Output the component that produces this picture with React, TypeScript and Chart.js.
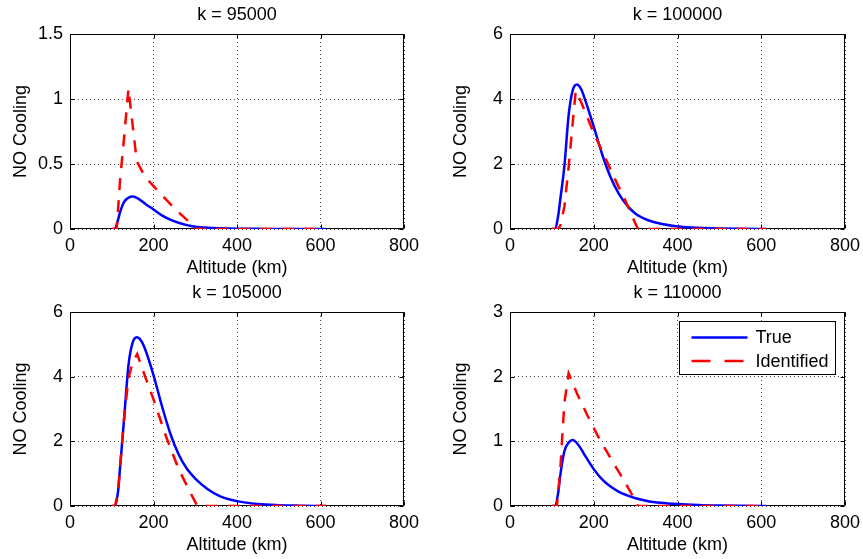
import React, { useEffect, useRef } from "react";
import { Chart, registerables } from "chart.js";

Chart.register(...registerables);

// ---------------- data ----------------
const panelTitles = ["k = 95000", "k = 100000", "k = 105000", "k = 110000"];
const seriesLabels = ["True", "Identified"];
const xAxisTitle = "Altitude (km)";
const yAxisTitle = "NO Cooling";

const altitudeTicks = [0, 200, 400, 600, 800];
const yTicks95000 = [0, 0.5, 1, 1.5];
const yTicks100000 = [0, 2, 4, 6];
const yTicks105000 = [0, 2, 4, 6];
const yTicks110000 = [0, 1, 2, 3];

// "True" profiles (solid blue)
const altitudeTrue = [100, 107, 115, 120, 130, 140, 150, 160, 170, 180, 200, 220, 240, 260, 280, 300, 330, 360, 400, 450, 500, 550, 612];
const true95000 = [0, 0, 0.07, 0.13, 0.21, 0.24, 0.25, 0.24, 0.22, 0.195, 0.15, 0.105, 0.072, 0.048, 0.03, 0.018, 0.009, 0.005, 0.002, 0.001, 0, 0, 0];
const true100000 = [0, 0, 0.4, 0.9, 1.95, 3.5, 4.28, 4.45, 4.3, 3.95, 3.15, 2.3, 1.6, 1.08, 0.72, 0.47, 0.27, 0.16, 0.08, 0.035, 0.015, 0.006, 0];
const true105000 = [0, 0, 0.44, 1.2, 2.77, 4.35, 5.05, 5.22, 5.12, 4.85, 4.05, 3.1, 2.25, 1.6, 1.15, 0.85, 0.52, 0.3, 0.15, 0.06, 0.025, 0.01, 0];
const true110000 = [0, 0, 0.2, 0.47, 0.85, 0.98, 1.02, 0.97, 0.88, 0.77, 0.57, 0.41, 0.3, 0.22, 0.165, 0.12, 0.075, 0.05, 0.03, 0.015, 0.007, 0.003, 0];

// "Identified" profiles (dashed red)
const altIdent95000 = [100, 112, 120, 130, 140, 150, 160, 180, 200, 220, 250, 280, 300, 612];
const ident95000 = [0, 0, 0.38, 0.72, 1.08, 0.8, 0.52, 0.4, 0.33, 0.26, 0.16, 0.07, 0, 0];
const altIdent100000 = [100, 115, 120, 130, 140, 150, 157, 170, 200, 230, 250, 275, 300, 306, 612];
const ident100000 = [0, 0, 0.1, 0.7, 1.9, 3.3, 4.25, 3.9, 2.95, 2.12, 1.55, 0.89, 0.15, 0, 0];
const altIdent105000 = [100, 108, 115, 120, 130, 140, 150, 161, 180, 200, 230, 260, 290, 305, 612];
const ident105000 = [0, 0, 0.44, 1.2, 2.77, 3.95, 4.45, 4.7, 4.0, 3.3, 2.15, 1.15, 0.37, 0, 0];
const altIdent110000 = [100, 112, 120, 125, 130, 140, 160, 185, 210, 240, 270, 295, 305, 612];
const ident110000 = [0, 0, 0.55, 1.1, 1.6, 2.05, 1.74, 1.4, 1.08, 0.74, 0.42, 0.13, 0, 0];

// ---------------- layout / style ----------------
const FONT = "'Liberation Sans', Arial, Helvetica, sans-serif";
const FS = 18;
const BLUE = "#0000ff";
const RED = "#ff0000";
const LW = 2.5;
const DASH = [12, 10];
const GRID = "rgba(0,0,0,0.7)";

type PanelCfg = {
  title: string;
  yTicks: number[];
  trueY: number[];
  identX: number[];
  identY: number[];
  left: number;
  top: number;
  width: number;
  height: number;
  padRight: number;
  legend: boolean;
};

const panels: PanelCfg[] = [
  { title: panelTitles[0], yTicks: yTicks95000, trueY: true95000, identX: altIdent95000, identY: ident95000, left: 0, top: 0, width: 431, height: 280, padRight: 27, legend: false },
  { title: panelTitles[1], yTicks: yTicks100000, trueY: true100000, identX: altIdent100000, identY: ident100000, left: 440, top: 0, width: 423, height: 280, padRight: 18, legend: false },
  { title: panelTitles[2], yTicks: yTicks105000, trueY: true105000, identX: altIdent105000, identY: ident105000, left: 0, top: 278, width: 431, height: 279, padRight: 27, legend: false },
  { title: panelTitles[3], yTicks: yTicks110000, trueY: true110000, identX: altIdent110000, identY: ident110000, left: 440, top: 278, width: 423, height: 279, padRight: 18, legend: true },
];

// box around axes + inward tick marks (MATLAB style)
const boxPlugin = {
  id: "matlabBox",
  beforeDatasetsDraw(chart: any) {
    const { ctx, chartArea: a, scales } = chart;
    ctx.save();
    ctx.strokeStyle = "#000";
    ctx.lineWidth = 1;
    ctx.beginPath();
    const L = Math.round(a.left) + 0.5;
    const R = Math.round(a.right) - 0.5;
    const T = Math.round(a.top) + 0.5;
    const B = Math.round(a.bottom) - 0.5;
    ctx.rect(L, T, R - L, B - T);
    const tl = 4;
    scales.x.ticks.forEach((t: any) => {
      const px = Math.round(scales.x.getPixelForValue(t.value)) + 0.5;
      ctx.moveTo(px, B);
      ctx.lineTo(px, B - tl);
      ctx.moveTo(px, T);
      ctx.lineTo(px, T + tl);
    });
    scales.y.ticks.forEach((t: any) => {
      const py = Math.round(scales.y.getPixelForValue(t.value)) + 0.5;
      ctx.moveTo(L, py);
      ctx.lineTo(L + tl, py);
      ctx.moveTo(R, py);
      ctx.lineTo(R - tl, py);
    });
    ctx.stroke();
    ctx.restore();
  },
};

const legendPlugin = {
  id: "insideLegend",
  afterDatasetsDraw(chart: any, _args: any, opts: any) {
    if (!opts || !opts.show) return;
    const { ctx, chartArea: a } = chart;
    const w = 156;
    const h = 53;
    const x0 = Math.round(a.right - 10 - w) + 0.5;
    const y0 = Math.round(a.top + 9) + 0.5;
    ctx.save();
    ctx.fillStyle = "#fff";
    ctx.fillRect(x0, y0, w, h);
    ctx.strokeStyle = "#000";
    ctx.lineWidth = 1;
    ctx.strokeRect(x0, y0, w, h);
    const rows = [
      { label: seriesLabels[0], color: BLUE, dash: [] as number[], y: y0 + 16 },
      { label: seriesLabels[1], color: RED, dash: [19, 14], y: y0 + 39.5 },
    ];
    rows.forEach((r) => {
      ctx.beginPath();
      ctx.strokeStyle = r.color;
      ctx.lineWidth = LW;
      ctx.setLineDash(r.dash);
      ctx.moveTo(x0 + 12, r.y);
      ctx.lineTo(x0 + 68, r.y);
      ctx.stroke();
      ctx.setLineDash([]);
      ctx.fillStyle = "#000";
      ctx.font = `${FS}px ${FONT}`;
      ctx.textAlign = "left";
      ctx.textBaseline = "middle";
      ctx.fillText(r.label, x0 + 76, r.y + 1);
    });
    ctx.restore();
  },
};

function Panel({ cfg }: { cfg: PanelCfg }) {
  const ref = useRef<HTMLCanvasElement>(null);
  useEffect(() => {
    const canvas = ref.current!;
    const trueData = altitudeTrue.map((x, i) => ({ x, y: cfg.trueY[i] }));
    const identData = cfg.identX.map((x, i) => ({ x, y: cfg.identY[i] }));
    const yMax = cfg.yTicks[cfg.yTicks.length - 1];
    const chart = new Chart(canvas, {
      type: "line",
      data: {
        datasets: [
          {
            label: seriesLabels[1],
            data: identData,
            borderColor: RED,
            backgroundColor: RED,
            borderWidth: LW,
            borderDash: DASH,
            pointRadius: 0,
            tension: 0,
            fill: false,
            order: 0,
          },
          {
            label: seriesLabels[0],
            data: trueData,
            borderColor: BLUE,
            backgroundColor: BLUE,
            borderWidth: LW,
            pointRadius: 0,
            cubicInterpolationMode: "monotone",
            fill: false,
            order: 1,
          },
        ],
      },
      options: {
        responsive: false,
        animation: false,
        events: [],
        layout: { padding: { top: 0, left: 0, right: cfg.padRight, bottom: 0 } },
        plugins: {
          legend: { display: false },
          tooltip: { enabled: false },
          title: {
            display: true,
            text: cfg.title,
            color: "#000",
            fullSize: false,
            font: { family: FONT, size: FS, weight: "normal", lineHeight: 1.2 },
            padding: { top: 4.5, bottom: 7.9 },
          },
          insideLegend: { show: cfg.legend },
        } as any,
        scales: {
          x: {
            type: "linear",
            min: 0,
            max: 800,
            afterBuildTicks: (s: any) => {
              s.ticks = altitudeTicks.map((v) => ({ value: v }));
            },
            afterFit: (s: any) => {
              s.height = 51;
              s.paddingLeft = 0;
              s.paddingRight = 0;
            },
            ticks: {
              color: "#000",
              padding: 6,
              maxRotation: 0,
              autoSkip: false,
              font: { family: FONT, size: FS },
              callback: (v: any) => String(v),
            },
            grid: { color: GRID, lineWidth: 1, drawTicks: false },
            border: { display: false, dash: [1, 3] },
            title: {
              display: true,
              text: xAxisTitle,
              color: "#000",
              font: { family: FONT, size: FS },
              padding: { top: 0, bottom: 1 },
            },
          },
          y: {
            type: "linear",
            min: 0,
            max: yMax,
            afterBuildTicks: (s: any) => {
              s.ticks = cfg.yTicks.map((v) => ({ value: v }));
            },
            afterFit: (s: any) => {
              s.width = 70;
            },
            ticks: {
              color: "#000",
              padding: 7,
              autoSkip: false,
              font: { family: FONT, size: FS },
              callback: (v: any) => String(v),
            },
            grid: { color: GRID, lineWidth: 1, drawTicks: false },
            border: { display: false, dash: [1, 3] },
            title: {
              display: true,
              text: yAxisTitle,
              color: "#000",
              font: { family: FONT, size: FS },
              padding: { top: 10.5, bottom: 0 },
            },
          },
        },
      } as any,
      plugins: [boxPlugin, legendPlugin],
    });
    return () => chart.destroy();
  }, [cfg]);
  return (
    <canvas
      ref={ref}
      width={cfg.width}
      height={cfg.height}
      style={{ position: "absolute", left: cfg.left, top: cfg.top, width: cfg.width, height: cfg.height }}
    />
  );
}

export default function App() {
  return (
    <div style={{ position: "absolute", left: 0, top: 0, width: 863, height: 559, background: "#fff", overflow: "hidden" }}>
      {panels.map((p, i) => (
        <Panel key={i} cfg={p} />
      ))}
    </div>
  );
}
